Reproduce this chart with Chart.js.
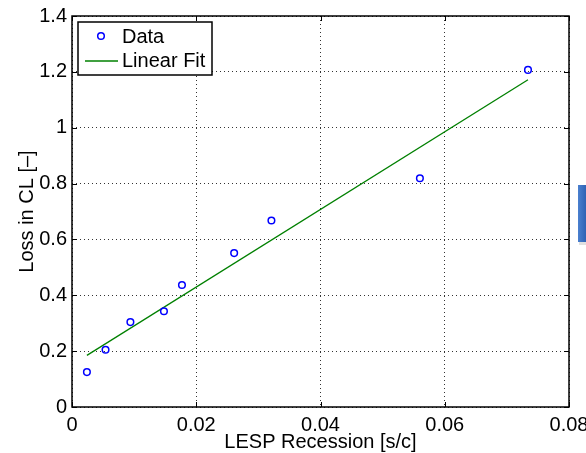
<!DOCTYPE html>
<html>
<head>
<meta charset="utf-8">
<script src="https://cdn.jsdelivr.net/npm/chart.js@4/dist/chart.umd.min.js"></script>
<style>
  html, body { margin: 0; padding: 0; background: #fff; }
  #wrap { width: 586px; height: 453px; position: relative; }
</style>
</head>
<body>
<div id="wrap"><canvas id="chart"></canvas></div>
<script>
// valores
const recession = [0.0024, 0.0054, 0.0094, 0.0148, 0.0177, 0.0261, 0.0321, 0.0560, 0.0734];
const lossCL = [0.125, 0.205, 0.304, 0.343, 0.437, 0.551, 0.668, 0.819, 1.207];
const fitX = [0.0024, 0.0734];
const fitY = [0.185, 1.172];
const xTicks = [0, 0.02, 0.04, 0.06, 0.08];
const yTicks = [0, 0.2, 0.4, 0.6, 0.8, 1, 1.2, 1.4];

const FONT = 'Helvetica, "Liberation Sans", Arial, sans-serif';

// moldura + ticks para dentro (estilo matlab)
const framePlugin = {
    id: 'frame',
    afterDatasetsDraw(chart) {
        const { ctx, chartArea: a, scales } = chart;
        ctx.save();
        ctx.strokeStyle = '#000';
        ctx.lineWidth = 1;
        ctx.beginPath();
        xTicks.forEach(v => {
            const px = Math.round(scales.x.getPixelForValue(v)) + 0.5;
            ctx.moveTo(px, a.bottom); ctx.lineTo(px, a.bottom - 5);
            ctx.moveTo(px, a.top); ctx.lineTo(px, a.top + 5);
        });
        yTicks.forEach(v => {
            const py = Math.round(scales.y.getPixelForValue(v)) + 0.5;
            ctx.moveTo(a.left, py); ctx.lineTo(a.left + 5, py);
            ctx.moveTo(a.right, py); ctx.lineTo(a.right - 5, py);
        });
        ctx.stroke();
        ctx.lineWidth = 1.5;
        ctx.strokeRect(a.left, a.top, a.right - a.left, a.bottom - a.top);
        ctx.restore();
    },
    afterDraw(chart) {
        const { ctx, chartArea: a } = chart;
        ctx.save();
        // legenda
        const lx = a.left + 6, ly = a.top + 6, lw = 134, lh = 53;
        ctx.fillStyle = '#fff';
        ctx.fillRect(lx, ly, lw, lh);
        ctx.strokeStyle = '#000';
        ctx.lineWidth = 1.5;
        ctx.strokeRect(lx, ly, lw, lh);
        const ds = chart.data.datasets;
        ctx.strokeStyle = ds[0].borderColor;
        ctx.beginPath();
        ctx.arc(lx + 23, ly + 14, 3.3, 0, Math.PI * 2);
        ctx.stroke();
        ctx.strokeStyle = ds[1].borderColor;
        ctx.lineWidth = 1.3;
        ctx.beginPath();
        ctx.moveTo(lx + 7, ly + 39); ctx.lineTo(lx + 40, ly + 39);
        ctx.stroke();
        ctx.fillStyle = '#000';
        ctx.font = '20px ' + FONT;
        ctx.textBaseline = 'middle';
        ctx.fillText(ds[0].label, lx + 44, ly + 15);
        ctx.fillText(ds[1].label, lx + 44, ly + 39);
        // pedaço azul cortado na borda direita
        const g = ctx.createLinearGradient(578, 0, 586, 0);
        g.addColorStop(0, '#4a80cf');
        g.addColorStop(1, '#2f62b4');
        ctx.fillStyle = 'rgba(0,0,0,0.12)';
        ctx.fillRect(579, 187, 8, 58);
        ctx.fillStyle = g;
        ctx.fillRect(578, 185, 8, 57);
        ctx.restore();
    }
};

const grid = {
    color: 'rgba(0,0,0,0.8)',
    lineWidth: 1,
    drawTicks: false
};

new Chart(document.getElementById('chart'), {
    type: 'scatter',
    data: {
        datasets: [{
            label: 'Data',
            data: recession.map((x, i) => ({ x, y: lossCL[i] })),
            borderColor: '#0000ff',
            backgroundColor: 'rgba(0,0,0,0)',
            borderWidth: 1.5,
            pointRadius: 3.3,
            pointStyle: 'circle'
        }, {
            label: 'Linear Fit',
            type: 'line',
            data: fitX.map((x, i) => ({ x, y: fitY[i] })),
            borderColor: '#008000',
            borderWidth: 1.3,
            pointRadius: 0,
            fill: false
        }]
    },
    options: {
        responsive: true,
        maintainAspectRatio: false,
        animation: false,
        layout: { padding: { left: 0, right: 17, top: 16, bottom: 0 } },
        plugins: { legend: { display: false }, tooltip: { enabled: false } },
        scales: {
            x: {
                type: 'linear', min: 0, max: 0.08,
                afterBuildTicks: s => { s.ticks = xTicks.map(v => ({ value: v })); },
                afterFit: s => { s.height = 46; s.paddingLeft = 0; s.paddingRight = 0; },
                ticks: { color: '#000', font: { family: FONT, size: 20 }, padding: 6, maxRotation: 0, callback: v => String(v) },
                grid: grid,
                border: { display: false, dash: [1, 3] },
                title: { display: true, text: 'LESP Recession [s/c]', color: '#000', font: { family: FONT, size: 20 }, padding: { top: 0, bottom: -1 } }
            },
            y: {
                type: 'linear', min: 0, max: 1.4,
                afterBuildTicks: s => { s.ticks = yTicks.map(v => ({ value: v })); },
                afterFit: s => { s.width = 72; s.paddingTop = 0; s.paddingBottom = 0; },
                ticks: { color: '#000', font: { family: FONT, size: 20 }, padding: 5, callback: v => String(v) },
                grid: grid,
                border: { display: false, dash: [1, 3] },
                title: { display: true, text: 'Loss in CL [\u2013]', color: '#000', font: { family: FONT, size: 20 }, padding: { top: 15, bottom: 0 } }
            }
        }
    },
    plugins: [framePlugin]
});
</script>
</body>
</html>
